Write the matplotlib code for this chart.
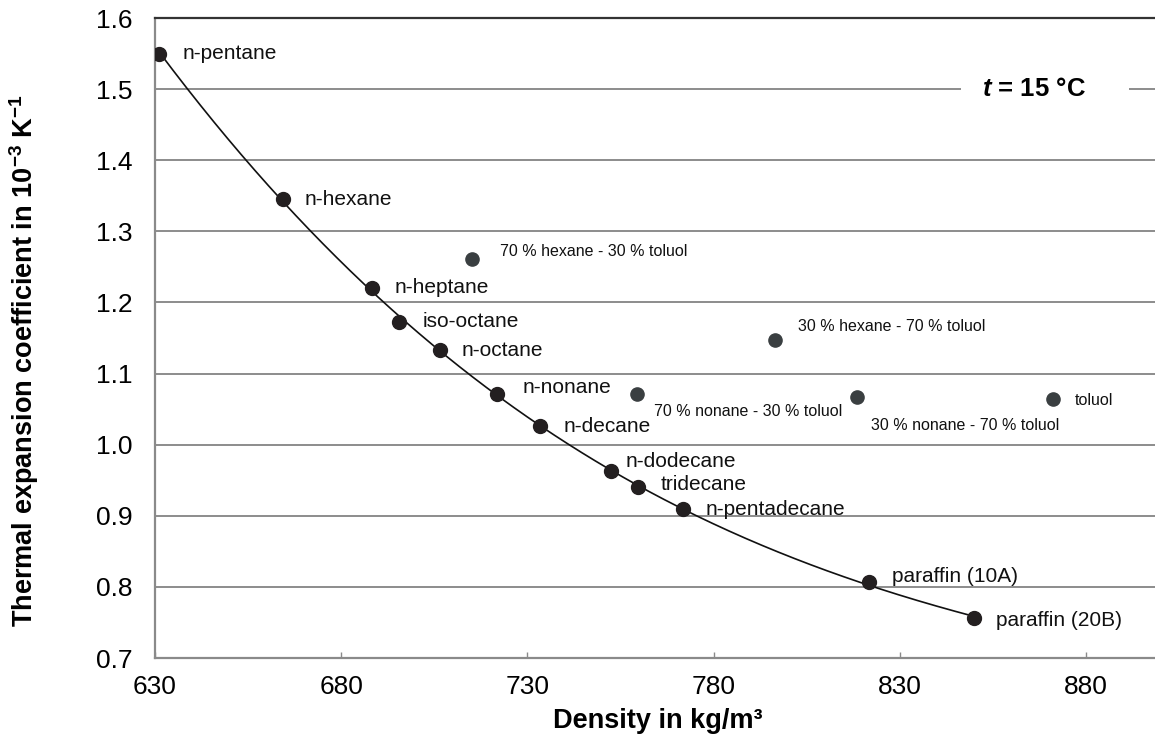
import numpy as np
import matplotlib
matplotlib.use("Agg")
import matplotlib.pyplot as plt
from matplotlib.ticker import FormatStrFormatter

plt.rcParams['font.family'] = ['Liberation Sans', 'DejaVu Sans']
plt.rcParams['mathtext.fontset'] = 'custom'
plt.rcParams['mathtext.rm'] = 'Liberation Sans'
plt.rcParams['mathtext.bf'] = 'Liberation Sans:bold'
plt.rcParams['mathtext.it'] = 'Liberation Sans:italic:bold'

# pure liquids, on the curve
pure_names = ['n-pentane', 'n-hexane', 'n-heptane', 'iso-octane', 'n-octane', 'n-nonane',
              'n-decane', 'n-dodecane', 'tridecane', 'n-pentadecane',
              'paraffin (10A)', 'paraffin (20B)']
pure_density = [631.2, 664.3, 688.2, 695.6, 706.5, 721.9, 733.4, 752.4, 759.6, 771.7, 821.7, 850.0]
pure_alpha = [1.550, 1.345, 1.221, 1.173, 1.133, 1.071, 1.026, 0.963, 0.941, 0.909, 0.807, 0.756]
pure_offsets = [(23, 0), (22, 0), (23, 0), (23, 0), (22, 0), (25, 7),
                (23, 0), (15, 9), (23, 2), (23, 0), (23, 5), (22, -2)]

# mixtures with toluol
mix_names = ['70 % hexane - 30 % toluol', '30 % hexane - 70 % toluol',
             '70 % nonane - 30 % toluol', '30 % nonane - 70 % toluol', 'toluol']
mix_density = [715.0, 796.5, 759.3, 818.4, 871.0]
mix_alpha = [1.261, 1.147, 1.071, 1.067, 1.064]
mix_offsets = [(28, 8), (23, 14), (17, -17), (14, -28), (22, -1)]

x_ticks = [630, 680, 730, 780, 830, 880]
y_ticks = [0.7, 0.8, 0.9, 1.0, 1.1, 1.2, 1.3, 1.4, 1.5, 1.6]

fig = plt.figure(figsize=(11.55, 7.44), dpi=100)
ax = fig.add_axes([155 / 1155, 1 - 658 / 744, (1160.5 - 155) / 1155, 640 / 744])

ax.set_xlim(630, 900)
ax.set_ylim(0.7, 1.6)
ax.set_xticks(x_ticks)
ax.set_yticks(y_ticks)
ax.yaxis.set_major_formatter(FormatStrFormatter('%.1f'))
ax.set_axisbelow(True)
ax.yaxis.grid(True, color='#8c8c8c', lw=1.4)

gray = '#8a8a8a'
ax.spines['right'].set_visible(False)
ax.spines['left'].set_color(gray)
ax.spines['left'].set_linewidth(1.6)
ax.spines['bottom'].set_color(gray)
ax.spines['bottom'].set_linewidth(1.6)
ax.spines['top'].set_color('#333333')
ax.spines['top'].set_linewidth(1.6)

ax.tick_params(axis='x', direction='in', length=4, width=1, color=gray,
               labelsize=19, pad=12)
ax.tick_params(axis='y', length=0, labelsize=19, pad=16)

# trend line through the pure liquids
coef = np.polyfit(pure_density, pure_alpha, 3)
cx = np.linspace(pure_density[0], pure_density[-1], 300)
ax.plot(cx, np.polyval(coef, cx), color='#111111', lw=1.2, zorder=3)

ax.plot(pure_density, pure_alpha, 'o', ms=10, color='#231f20', zorder=4)
ax.plot(mix_density, mix_alpha, 'o', ms=9.5, color='#3a3f41', zorder=4)

for name, x, y, off in zip(pure_names, pure_density, pure_alpha, pure_offsets):
    ax.annotate(name, (x, y), xytext=off, textcoords='offset pixels',
                ha='left', va='center', fontsize=15, color='#111111')

for name, x, y, off in zip(mix_names, mix_density, mix_alpha, mix_offsets):
    ax.annotate(name, (x, y), xytext=off, textcoords='offset pixels',
                ha='left', va='center', fontsize=11.5, color='#111111')

ax.text(0.8225, 1.5, r'$t$ = 15 °C' + '\u00a0' * 4, fontsize=18.5, fontweight='bold',
        ha='left', va='center', transform=ax.get_yaxis_transform(), zorder=2,
        bbox=dict(boxstyle='square,pad=0.8', facecolor='white', edgecolor='none'))

ax.set_xlabel('Density in kg/m³', fontsize=19.5, fontweight='bold', labelpad=7)
ax.set_ylabel(r'Thermal expansion coefficient in 10$^{\mathbf{-3}}$ K$^{\mathbf{-1}}$',
              fontsize=19.5, fontweight='bold')
ax.yaxis.set_label_coords(-0.113, 0.465)

fig.savefig('out.png', dpi=100)
